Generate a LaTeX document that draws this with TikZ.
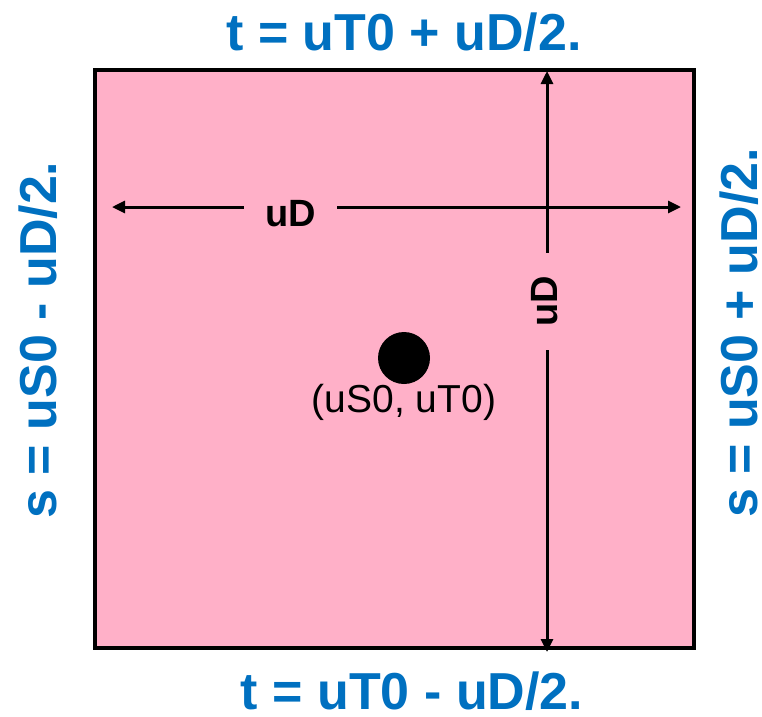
\documentclass[tikz,border=0pt]{standalone}
\usepackage{fontspec}
\setmainfont{Liberation Sans}
\usetikzlibrary{arrows.meta}
\definecolor{pinkfill}{HTML}{FFB0C8}
\definecolor{eqblue}{HTML}{0070C0}
\begin{document}
\begin{tikzpicture}[x=1pt,y=-1pt,
  eq/.style={text=eqblue,font=\fontsize{52}{60}\selectfont\bfseries,inner sep=0pt,anchor=base},
  dimlab/.style={font=\fontsize{38}{44}\selectfont\bfseries,inner sep=0pt},
  dimline/.style={line width=3pt,-{Triangle[length=13pt,width=12pt]}},
]
\useasboundingbox (0,0) rectangle (762,716);
\node[draw,line width=3.5pt,fill=pinkfill,minimum width=599pt,minimum height=578pt,inner sep=0pt] (sq) at (394.5,359) {};

\coordinate (hl) at (112,207);
\coordinate (hr) at (681,207);
\coordinate (vt) at (547,71);
\coordinate (vb) at (547,652);

\node[dimlab,minimum width=93pt] (hlab) at (290.5,213.5) {uD};
\draw[dimline] (hlab.west |- hl) -- (hl);
\draw[dimline] (hlab.east |- hr) -- (hr);

\node[dimlab,minimum width=97pt,rotate=90] (vlab) at (545,301.5) {uD};
\draw[dimline] (vt |- vlab.east) -- (vt);
\draw[dimline] (vb |- vlab.west) -- (vb);

\node[circle,fill=black,minimum size=52pt,inner sep=0pt] (pt) at (404,358) {};
\node[font=\fontsize{39}{46}\selectfont,inner sep=0pt,anchor=base] (ptlab) at (404,412) {(uS0, uT0)};

\node[eq] (top) at (404,50) {t = uT0 + uD/2.};
\node[eq] (bottom) at (412,709) {t = uT0 - uD/2.};
\node[eq,rotate=90] (left) at (56,340) {s = uS0 - uD/2.};
\node[eq,rotate=90] (right) at (757,333) {s = uS0 + uD/2.};
\end{tikzpicture}
\end{document}
